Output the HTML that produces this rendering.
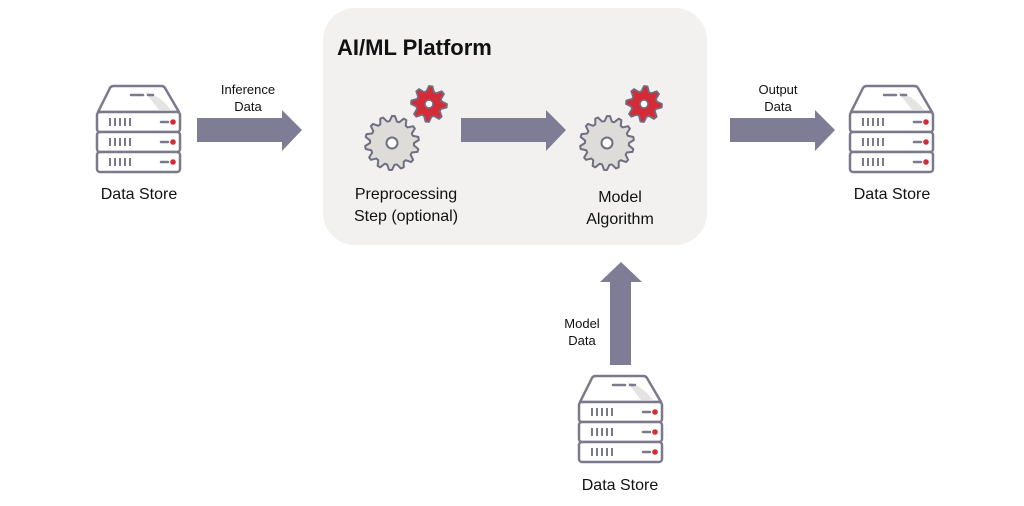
<!DOCTYPE html>
<html><head><meta charset="utf-8"><style>
html,body{margin:0;padding:0;background:#fff;}
svg{display:block;font-family:"Liberation Sans",Arial,sans-serif;}
</style></head><body>
<svg width="1024" height="506" viewBox="0 0 1024 506" xmlns="http://www.w3.org/2000/svg">
<defs>
<g id="srv">
  <path d="M3,26 L15,2 Q16,0 19,0 L66,0 Q69,0 70,2 L84,26 Z" fill="#fff"/>
  <path d="M50,6 Q66,10 76,24 L64,24 Z" fill="#e6e4e2"/>
  <path d="M3,26 L15,2 Q16,0 19,0 L66,0 Q69,0 70,2 L84,26 Z" fill="none" stroke="#7b7a8c" stroke-width="2.5" stroke-linejoin="round"/>
  <line x1="36" y1="9" x2="48" y2="9" stroke="#7b7a8c" stroke-width="2.5" stroke-linecap="round"/>
  <line x1="53" y1="9" x2="58" y2="9" stroke="#7b7a8c" stroke-width="2.5" stroke-linecap="round"/>
  <g id="unit">
    <rect x="2" y="26" width="83" height="20" rx="3" fill="#fff" stroke="#7b7a8c" stroke-width="2.5"/>
    <path d="M15,32v8M20,32v8M25,32v8M30,32v8M35,32v8" stroke="#7b7a8c" stroke-width="2"/>
    <line x1="66" y1="36" x2="73" y2="36" stroke="#7b7a8c" stroke-width="2.5" stroke-linecap="round"/>
    <circle cx="78" cy="36" r="2.8" fill="#d52b36"/>
  </g>
  <use href="#unit" y="20"/>
  <use href="#unit" y="40"/>
</g>
<g id="bigGear">
  <path id="bgp" d="" fill="#dedcd9" stroke="#6f6e82" stroke-width="2" stroke-linejoin="round"/>
  <circle r="5.5" fill="#fff" stroke="#6f6e82" stroke-width="2"/>
</g>
<g id="redGear">
  <path id="rgp" d="" fill="#d52b36" stroke="#6f6e82" stroke-width="1.8" stroke-linejoin="round"/>
  <circle r="4" fill="#fff" stroke="#6f6e82" stroke-width="1.5"/>
</g>
</defs>

<rect x="323" y="8" width="384" height="237" rx="32" fill="#f2f1f0"/>
<text x="337" y="55" font-size="22" font-weight="bold" fill="#111">AI/ML Platform</text>

<use href="#srv" x="95" y="86"/>
<use href="#srv" x="848" y="86"/>
<use href="#srv" x="577" y="376"/>

<use href="#bigGear" x="392" y="143"/>
<use href="#redGear" x="429" y="104"/>
<use href="#bigGear" x="607" y="143"/>
<use href="#redGear" x="644" y="104"/>

<g fill="#7e7d95">
  <polygon points="197,118 282,118 282,110 302,130 282,151 282,142 197,142"/>
  <polygon points="461,118 546,118 546,110 566,130 546,151 546,142 461,142"/>
  <polygon points="730,118 815,118 815,110 835,130 815,151 815,142 730,142"/>
  <polygon points="610,365 610,282 600,282 621,262 642,282 631,282 631,365"/>
</g>

<g font-size="16" fill="#111" text-anchor="middle">
  <text x="139" y="199">Data Store</text>
  <text x="892" y="199">Data Store</text>
  <text x="620" y="490">Data Store</text>
  <text x="406" y="199">Preprocessing</text>
  <text x="406" y="221">Step (optional)</text>
  <text x="620" y="202">Model</text>
  <text x="620" y="224">Algorithm</text>
</g>
<g font-size="13" fill="#111" text-anchor="middle">
  <text x="248" y="94">Inference</text>
  <text x="248" y="111">Data</text>
  <text x="778" y="94">Output</text>
  <text x="778" y="111">Data</text>
  <text x="582" y="328">Model</text>
  <text x="582" y="345">Data</text>
</g>
</svg>
<script>
function gear(n,ro,ri){
  var d="",k=n*4;
  for(var i=0;i<k;i++){
    var a=(i/k)*2*Math.PI - Math.PI/2;
    var r=(i%4<2)?ro:ri;
    var x=(r*Math.cos(a)).toFixed(2),y=(r*Math.sin(a)).toFixed(2);
    d+=(i?"L":"M")+x+","+y;
  }
  return d+"Z";
}
document.getElementById("bgp").setAttribute("d",gear(14,27,22));
document.getElementById("rgp").setAttribute("d",gear(8,18,13));
</script>
</body></html>
